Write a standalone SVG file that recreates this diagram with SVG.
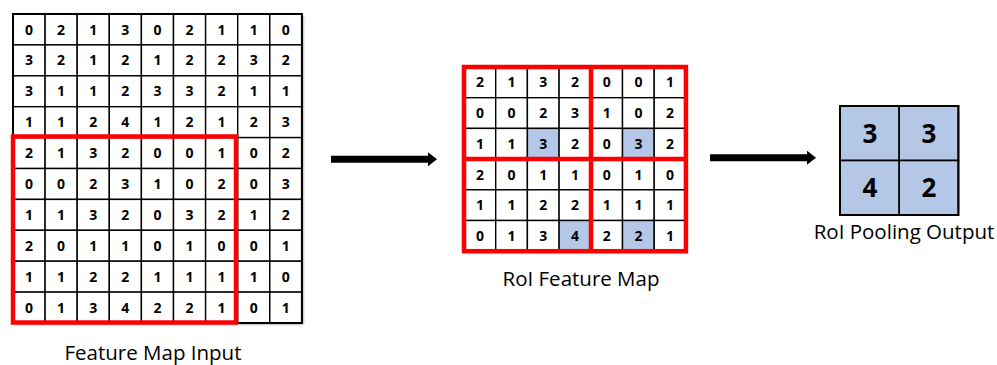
<svg xmlns="http://www.w3.org/2000/svg" width="997" height="365" viewBox="0 0 997 365">
  <style>
    .cell { fill: #ffffff; stroke: #000000; stroke-width: 1.4; }
    .hl { fill: #b4c7e7; stroke: #000000; stroke-width: 1.4; }
    .frame { fill: none; stroke: #000000; stroke-width: 2; }
    .roi { fill: none; stroke: #ff0000; stroke-width: 4.5; }
    .num { font-family: "Open Sans", "Liberation Sans", sans-serif; font-weight: bold; font-size: 14px; text-anchor: middle; fill: #000000; }
    .big { font-family: "Open Sans", "Liberation Sans", sans-serif; font-weight: bold; font-size: 26px; text-anchor: middle; fill: #000000; }
    .label { font-family: "Open Sans", "Liberation Sans", sans-serif; font-size: 20.5px; text-anchor: middle; fill: #000000; }
    .arrow { stroke: #000000; stroke-width: 7; fill: none; marker-end: url(#head); }
  </style>
  <defs>
    <marker id="head" markerUnits="userSpaceOnUse" markerWidth="10" markerHeight="14" refX="0" refY="7" orient="auto">
      <path d="M0,0 L9,7 L0,14 Z" fill="#000000"/>
    </marker>
    <filter id="shadow" x="-5%" y="-5%" width="115%" height="115%">
      <feGaussianBlur stdDeviation="1.2"/>
    </filter>
  </defs>
  <rect width="997" height="365" fill="#ffffff"/>

  <!-- Input feature map: 10 rows x 9 columns, cell 32.1 x 30.9 -->
  <g id="feature-map-input">
    <rect x="14.5" y="15.5" width="289" height="309" fill="#a0a0a0" filter="url(#shadow)"/>
    <g transform="translate(13,14)">
      <rect class="cell" x="0" y="0" width="32.1" height="30.9"/><rect class="cell" x="32.1" y="0" width="32.1" height="30.9"/><rect class="cell" x="64.2" y="0" width="32.1" height="30.9"/><rect class="cell" x="96.3" y="0" width="32.1" height="30.9"/><rect class="cell" x="128.4" y="0" width="32.1" height="30.9"/><rect class="cell" x="160.5" y="0" width="32.1" height="30.9"/><rect class="cell" x="192.6" y="0" width="32.1" height="30.9"/><rect class="cell" x="224.7" y="0" width="32.1" height="30.9"/><rect class="cell" x="256.8" y="0" width="32.1" height="30.9"/>
      <rect class="cell" x="0" y="30.9" width="32.1" height="30.9"/><rect class="cell" x="32.1" y="30.9" width="32.1" height="30.9"/><rect class="cell" x="64.2" y="30.9" width="32.1" height="30.9"/><rect class="cell" x="96.3" y="30.9" width="32.1" height="30.9"/><rect class="cell" x="128.4" y="30.9" width="32.1" height="30.9"/><rect class="cell" x="160.5" y="30.9" width="32.1" height="30.9"/><rect class="cell" x="192.6" y="30.9" width="32.1" height="30.9"/><rect class="cell" x="224.7" y="30.9" width="32.1" height="30.9"/><rect class="cell" x="256.8" y="30.9" width="32.1" height="30.9"/>
      <rect class="cell" x="0" y="61.8" width="32.1" height="30.9"/><rect class="cell" x="32.1" y="61.8" width="32.1" height="30.9"/><rect class="cell" x="64.2" y="61.8" width="32.1" height="30.9"/><rect class="cell" x="96.3" y="61.8" width="32.1" height="30.9"/><rect class="cell" x="128.4" y="61.8" width="32.1" height="30.9"/><rect class="cell" x="160.5" y="61.8" width="32.1" height="30.9"/><rect class="cell" x="192.6" y="61.8" width="32.1" height="30.9"/><rect class="cell" x="224.7" y="61.8" width="32.1" height="30.9"/><rect class="cell" x="256.8" y="61.8" width="32.1" height="30.9"/>
      <rect class="cell" x="0" y="92.7" width="32.1" height="30.9"/><rect class="cell" x="32.1" y="92.7" width="32.1" height="30.9"/><rect class="cell" x="64.2" y="92.7" width="32.1" height="30.9"/><rect class="cell" x="96.3" y="92.7" width="32.1" height="30.9"/><rect class="cell" x="128.4" y="92.7" width="32.1" height="30.9"/><rect class="cell" x="160.5" y="92.7" width="32.1" height="30.9"/><rect class="cell" x="192.6" y="92.7" width="32.1" height="30.9"/><rect class="cell" x="224.7" y="92.7" width="32.1" height="30.9"/><rect class="cell" x="256.8" y="92.7" width="32.1" height="30.9"/>
      <rect class="cell" x="0" y="123.6" width="32.1" height="30.9"/><rect class="cell" x="32.1" y="123.6" width="32.1" height="30.9"/><rect class="cell" x="64.2" y="123.6" width="32.1" height="30.9"/><rect class="cell" x="96.3" y="123.6" width="32.1" height="30.9"/><rect class="cell" x="128.4" y="123.6" width="32.1" height="30.9"/><rect class="cell" x="160.5" y="123.6" width="32.1" height="30.9"/><rect class="cell" x="192.6" y="123.6" width="32.1" height="30.9"/><rect class="cell" x="224.7" y="123.6" width="32.1" height="30.9"/><rect class="cell" x="256.8" y="123.6" width="32.1" height="30.9"/>
      <rect class="cell" x="0" y="154.5" width="32.1" height="30.9"/><rect class="cell" x="32.1" y="154.5" width="32.1" height="30.9"/><rect class="cell" x="64.2" y="154.5" width="32.1" height="30.9"/><rect class="cell" x="96.3" y="154.5" width="32.1" height="30.9"/><rect class="cell" x="128.4" y="154.5" width="32.1" height="30.9"/><rect class="cell" x="160.5" y="154.5" width="32.1" height="30.9"/><rect class="cell" x="192.6" y="154.5" width="32.1" height="30.9"/><rect class="cell" x="224.7" y="154.5" width="32.1" height="30.9"/><rect class="cell" x="256.8" y="154.5" width="32.1" height="30.9"/>
      <rect class="cell" x="0" y="185.4" width="32.1" height="30.9"/><rect class="cell" x="32.1" y="185.4" width="32.1" height="30.9"/><rect class="cell" x="64.2" y="185.4" width="32.1" height="30.9"/><rect class="cell" x="96.3" y="185.4" width="32.1" height="30.9"/><rect class="cell" x="128.4" y="185.4" width="32.1" height="30.9"/><rect class="cell" x="160.5" y="185.4" width="32.1" height="30.9"/><rect class="cell" x="192.6" y="185.4" width="32.1" height="30.9"/><rect class="cell" x="224.7" y="185.4" width="32.1" height="30.9"/><rect class="cell" x="256.8" y="185.4" width="32.1" height="30.9"/>
      <rect class="cell" x="0" y="216.3" width="32.1" height="30.9"/><rect class="cell" x="32.1" y="216.3" width="32.1" height="30.9"/><rect class="cell" x="64.2" y="216.3" width="32.1" height="30.9"/><rect class="cell" x="96.3" y="216.3" width="32.1" height="30.9"/><rect class="cell" x="128.4" y="216.3" width="32.1" height="30.9"/><rect class="cell" x="160.5" y="216.3" width="32.1" height="30.9"/><rect class="cell" x="192.6" y="216.3" width="32.1" height="30.9"/><rect class="cell" x="224.7" y="216.3" width="32.1" height="30.9"/><rect class="cell" x="256.8" y="216.3" width="32.1" height="30.9"/>
      <rect class="cell" x="0" y="247.2" width="32.1" height="30.9"/><rect class="cell" x="32.1" y="247.2" width="32.1" height="30.9"/><rect class="cell" x="64.2" y="247.2" width="32.1" height="30.9"/><rect class="cell" x="96.3" y="247.2" width="32.1" height="30.9"/><rect class="cell" x="128.4" y="247.2" width="32.1" height="30.9"/><rect class="cell" x="160.5" y="247.2" width="32.1" height="30.9"/><rect class="cell" x="192.6" y="247.2" width="32.1" height="30.9"/><rect class="cell" x="224.7" y="247.2" width="32.1" height="30.9"/><rect class="cell" x="256.8" y="247.2" width="32.1" height="30.9"/>
      <rect class="cell" x="0" y="278.1" width="32.1" height="30.9"/><rect class="cell" x="32.1" y="278.1" width="32.1" height="30.9"/><rect class="cell" x="64.2" y="278.1" width="32.1" height="30.9"/><rect class="cell" x="96.3" y="278.1" width="32.1" height="30.9"/><rect class="cell" x="128.4" y="278.1" width="32.1" height="30.9"/><rect class="cell" x="160.5" y="278.1" width="32.1" height="30.9"/><rect class="cell" x="192.6" y="278.1" width="32.1" height="30.9"/><rect class="cell" x="224.7" y="278.1" width="32.1" height="30.9"/><rect class="cell" x="256.8" y="278.1" width="32.1" height="30.9"/>
      <rect class="frame" x="0" y="0" width="288.9" height="309"/>
      <!-- values, baseline = row centre + 5 -->
      <text class="num" y="20.5"><tspan x="16">0</tspan><tspan x="48.1">2</tspan><tspan x="80.2">1</tspan><tspan x="112.3">3</tspan><tspan x="144.4">0</tspan><tspan x="176.5">2</tspan><tspan x="208.6">1</tspan><tspan x="240.7">1</tspan><tspan x="272.8">0</tspan></text>
      <text class="num" y="51.4"><tspan x="16">3</tspan><tspan x="48.1">2</tspan><tspan x="80.2">1</tspan><tspan x="112.3">2</tspan><tspan x="144.4">1</tspan><tspan x="176.5">2</tspan><tspan x="208.6">2</tspan><tspan x="240.7">3</tspan><tspan x="272.8">2</tspan></text>
      <text class="num" y="82.3"><tspan x="16">3</tspan><tspan x="48.1">1</tspan><tspan x="80.2">1</tspan><tspan x="112.3">2</tspan><tspan x="144.4">3</tspan><tspan x="176.5">3</tspan><tspan x="208.6">2</tspan><tspan x="240.7">1</tspan><tspan x="272.8">1</tspan></text>
      <text class="num" y="113.2"><tspan x="16">1</tspan><tspan x="48.1">1</tspan><tspan x="80.2">2</tspan><tspan x="112.3">4</tspan><tspan x="144.4">1</tspan><tspan x="176.5">2</tspan><tspan x="208.6">1</tspan><tspan x="240.7">2</tspan><tspan x="272.8">3</tspan></text>
      <text class="num" y="144.1"><tspan x="16">2</tspan><tspan x="48.1">1</tspan><tspan x="80.2">3</tspan><tspan x="112.3">2</tspan><tspan x="144.4">0</tspan><tspan x="176.5">0</tspan><tspan x="208.6">1</tspan><tspan x="240.7">0</tspan><tspan x="272.8">2</tspan></text>
      <text class="num" y="175"><tspan x="16">0</tspan><tspan x="48.1">0</tspan><tspan x="80.2">2</tspan><tspan x="112.3">3</tspan><tspan x="144.4">1</tspan><tspan x="176.5">0</tspan><tspan x="208.6">2</tspan><tspan x="240.7">0</tspan><tspan x="272.8">3</tspan></text>
      <text class="num" y="205.9"><tspan x="16">1</tspan><tspan x="48.1">1</tspan><tspan x="80.2">3</tspan><tspan x="112.3">2</tspan><tspan x="144.4">0</tspan><tspan x="176.5">3</tspan><tspan x="208.6">2</tspan><tspan x="240.7">1</tspan><tspan x="272.8">2</tspan></text>
      <text class="num" y="236.8"><tspan x="16">2</tspan><tspan x="48.1">0</tspan><tspan x="80.2">1</tspan><tspan x="112.3">1</tspan><tspan x="144.4">0</tspan><tspan x="176.5">1</tspan><tspan x="208.6">0</tspan><tspan x="240.7">0</tspan><tspan x="272.8">1</tspan></text>
      <text class="num" y="267.7"><tspan x="16">1</tspan><tspan x="48.1">1</tspan><tspan x="80.2">2</tspan><tspan x="112.3">2</tspan><tspan x="144.4">1</tspan><tspan x="176.5">1</tspan><tspan x="208.6">1</tspan><tspan x="240.7">1</tspan><tspan x="272.8">0</tspan></text>
      <text class="num" y="298.6"><tspan x="16">0</tspan><tspan x="48.1">1</tspan><tspan x="80.2">3</tspan><tspan x="112.3">4</tspan><tspan x="144.4">2</tspan><tspan x="176.5">2</tspan><tspan x="208.6">1</tspan><tspan x="240.7">0</tspan><tspan x="272.8">1</tspan></text>
      <!-- region of interest -->
      <rect class="roi" x="0" y="122.5" width="223" height="186"/>
    </g>
    <text class="label" x="153" y="360">Feature Map Input</text>
  </g>

  <!-- RoI feature map: 6 rows x 7 columns split into 2x2 pooling bins -->
  <g id="roi-feature-map">
    <rect x="465" y="68.5" width="222" height="184" fill="#b0b0b0" filter="url(#shadow)"/>
    <g transform="translate(464,67)">
      <rect class="cell" x="0" y="0" width="31.7" height="30.7"/><rect class="cell" x="31.7" y="0" width="31.7" height="30.7"/><rect class="cell" x="63.4" y="0" width="31.7" height="30.7"/><rect class="cell" x="95.1" y="0" width="31.7" height="30.7"/><rect class="cell" x="126.8" y="0" width="31.7" height="30.7"/><rect class="cell" x="158.5" y="0" width="31.7" height="30.7"/><rect class="cell" x="190.2" y="0" width="31.7" height="30.7"/>
      <rect class="cell" x="0" y="30.7" width="31.7" height="30.7"/><rect class="cell" x="31.7" y="30.7" width="31.7" height="30.7"/><rect class="cell" x="63.4" y="30.7" width="31.7" height="30.7"/><rect class="cell" x="95.1" y="30.7" width="31.7" height="30.7"/><rect class="cell" x="126.8" y="30.7" width="31.7" height="30.7"/><rect class="cell" x="158.5" y="30.7" width="31.7" height="30.7"/><rect class="cell" x="190.2" y="30.7" width="31.7" height="30.7"/>
      <rect class="cell" x="0" y="61.4" width="31.7" height="30.7"/><rect class="cell" x="31.7" y="61.4" width="31.7" height="30.7"/><rect class="hl" x="63.4" y="61.4" width="31.7" height="30.7"/><rect class="cell" x="95.1" y="61.4" width="31.7" height="30.7"/><rect class="cell" x="126.8" y="61.4" width="31.7" height="30.7"/><rect class="hl" x="158.5" y="61.4" width="31.7" height="30.7"/><rect class="cell" x="190.2" y="61.4" width="31.7" height="30.7"/>
      <rect class="cell" x="0" y="92.1" width="31.7" height="30.7"/><rect class="cell" x="31.7" y="92.1" width="31.7" height="30.7"/><rect class="cell" x="63.4" y="92.1" width="31.7" height="30.7"/><rect class="cell" x="95.1" y="92.1" width="31.7" height="30.7"/><rect class="cell" x="126.8" y="92.1" width="31.7" height="30.7"/><rect class="cell" x="158.5" y="92.1" width="31.7" height="30.7"/><rect class="cell" x="190.2" y="92.1" width="31.7" height="30.7"/>
      <rect class="cell" x="0" y="122.8" width="31.7" height="30.7"/><rect class="cell" x="31.7" y="122.8" width="31.7" height="30.7"/><rect class="cell" x="63.4" y="122.8" width="31.7" height="30.7"/><rect class="cell" x="95.1" y="122.8" width="31.7" height="30.7"/><rect class="cell" x="126.8" y="122.8" width="31.7" height="30.7"/><rect class="cell" x="158.5" y="122.8" width="31.7" height="30.7"/><rect class="cell" x="190.2" y="122.8" width="31.7" height="30.7"/>
      <rect class="cell" x="0" y="153.5" width="31.7" height="30.7"/><rect class="cell" x="31.7" y="153.5" width="31.7" height="30.7"/><rect class="cell" x="63.4" y="153.5" width="31.7" height="30.7"/><rect class="hl" x="95.1" y="153.5" width="31.7" height="30.7"/><rect class="cell" x="126.8" y="153.5" width="31.7" height="30.7"/><rect class="hl" x="158.5" y="153.5" width="31.7" height="30.7"/><rect class="cell" x="190.2" y="153.5" width="31.7" height="30.7"/>
      <text class="num" y="20.4"><tspan x="15.9">2</tspan><tspan x="47.6">1</tspan><tspan x="79.3">3</tspan><tspan x="111">2</tspan><tspan x="142.7">0</tspan><tspan x="174.4">0</tspan><tspan x="206.1">1</tspan></text>
      <text class="num" y="51.1"><tspan x="15.9">0</tspan><tspan x="47.6">0</tspan><tspan x="79.3">2</tspan><tspan x="111">3</tspan><tspan x="142.7">1</tspan><tspan x="174.4">0</tspan><tspan x="206.1">2</tspan></text>
      <text class="num" y="81.8"><tspan x="15.9">1</tspan><tspan x="47.6">1</tspan><tspan x="79.3">3</tspan><tspan x="111">2</tspan><tspan x="142.7">0</tspan><tspan x="174.4">3</tspan><tspan x="206.1">2</tspan></text>
      <text class="num" y="112.5"><tspan x="15.9">2</tspan><tspan x="47.6">0</tspan><tspan x="79.3">1</tspan><tspan x="111">1</tspan><tspan x="142.7">0</tspan><tspan x="174.4">1</tspan><tspan x="206.1">0</tspan></text>
      <text class="num" y="143.2"><tspan x="15.9">1</tspan><tspan x="47.6">1</tspan><tspan x="79.3">2</tspan><tspan x="111">2</tspan><tspan x="142.7">1</tspan><tspan x="174.4">1</tspan><tspan x="206.1">1</tspan></text>
      <text class="num" y="173.9"><tspan x="15.9">0</tspan><tspan x="47.6">1</tspan><tspan x="79.3">3</tspan><tspan x="111">4</tspan><tspan x="142.7">2</tspan><tspan x="174.4">2</tspan><tspan x="206.1">1</tspan></text>
      <!-- pooling bins -->
      <rect class="roi" x="0" y="0" width="221.9" height="184.2"/>
      <line class="roi" x1="127" y1="0" x2="127" y2="184.2"/>
      <line class="roi" x1="0" y1="92" x2="221.9" y2="92"/>
    </g>
    <text class="label" x="581" y="286">RoI Feature Map</text>
  </g>

  <!-- 2x2 pooled output -->
  <g id="roi-pooling-output">
    <rect x="840" y="106" width="59.2" height="54.5" fill="#b4c7e7" stroke="#000000" stroke-width="1.6"/>
    <rect x="899.2" y="106" width="59.2" height="54.5" fill="#b4c7e7" stroke="#000000" stroke-width="1.6"/>
    <rect x="840" y="160.5" width="59.2" height="54.5" fill="#b4c7e7" stroke="#000000" stroke-width="1.6"/>
    <rect x="899.2" y="160.5" width="59.2" height="54.5" fill="#b4c7e7" stroke="#000000" stroke-width="1.6"/>
    <rect x="840" y="106" width="118.4" height="109" fill="none" stroke="#000000" stroke-width="2"/>
    <text class="big" x="870" y="143">3</text>
    <text class="big" x="929" y="143">3</text>
    <text class="big" x="870" y="197">4</text>
    <text class="big" x="929" y="197">2</text>
    <text class="label" x="904" y="239">RoI Pooling Output</text>
  </g>

  <g id="connectors">
    <line class="arrow" x1="331" y1="159.3" x2="428" y2="159.3"/>
    <line class="arrow" x1="710" y1="157.7" x2="807" y2="157.7"/>
  </g>
</svg>
